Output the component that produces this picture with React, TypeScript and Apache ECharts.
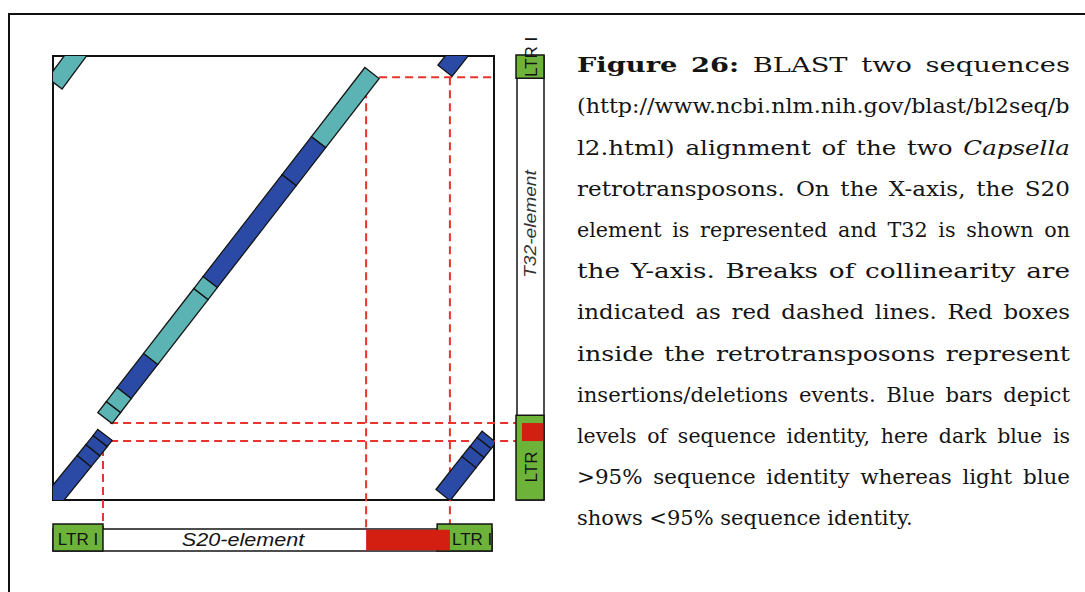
import React, { useEffect, useRef } from 'react';
import * as echarts from 'echarts';

// Axis extents of the dot plot (bp)
const S20_AXIS_MAX = 9000;
const T32_AXIS_MAX = 9000;

// Aligned blocks: [S20 from, T32 from, S20 to, T32 to, identity]
// identity: 'high' = >95 % sequence identity, 'low' = <95 %
const LTR5_VS_LTR5 = [
  [-270, -320, 635, 790, 'high'],
  [635, 790, 815, 1010, 'high'],
  [815, 1010, 965, 1195, 'high'],
  [965, 1195, 1060, 1320, 'high'],
];
const LTR5_VS_LTR3 = [[40, 8440, 760, 9410, 'low']];
const LTR3_VS_LTR3 = [[8000, 8700, 8610, 9470, 'high']];
const LTR3_VS_LTR5 = [
  [7960, 100, 8490, 770, 'high'],
  [8490, 770, 8655, 975, 'high'],
  [8655, 975, 8800, 1155, 'high'],
  [8800, 1155, 8900, 1280, 'high'],
];
const INTERNAL_REGION = [
  [1060, 1660, 1235, 1885, 'low'],
  [1235, 1885, 1455, 2170, 'low'],
  [1455, 2170, 1995, 2860, 'high'],
  [1995, 2860, 3020, 4175, 'low'],
  [3020, 4175, 3210, 4420, 'low'],
  [3210, 4420, 4820, 6485, 'high'],
  [4820, 6485, 5420, 7255, 'high'],
  [5420, 7255, 6510, 8655, 'low'],
];

// Element maps (bp)
const S20_LENGTH = 8960;
const S20_LTRS = [[0, 1020], [7840, 8960]];
const S20_INDELS = [[6390, 8100]];
const T32_LENGTH = 9000;
const T32_LTRS = [[0, 1720], [8550, 9020]];
const T32_INDELS = [[1195, 1560]];

// Breaks of collinearity
// vertical: [S20 position, T32 position where the line starts] -> runs down to the S20 map
const S20_BREAKS = [[1020, 1320], [6390, 8570], [8100, 8570]];
// horizontal: [T32 position, S20 position where the line starts] -> runs right to the T32 map
const T32_BREAKS = [[1560, 1165], [1195, 1165]];
// horizontal inside the plot only: [T32 position, S20 from, S20 to]
const T32_BREAKS_INNER = [[8570, 6390, 9000]];

const CAPTION_LINES = [
  '*Figure* *26:* BLAST two sequences',
  '(http://www.ncbi.nlm.nih.gov/blast/bl2seq/b',
  'l2.html) alignment of the two _Capsella_',
  'retrotransposons. On the X-axis, the S20',
  'element is represented and T32 is shown on',
  'the Y-axis. Breaks of collinearity are',
  'indicated as red dashed lines. Red boxes',
  'inside the retrotransposons represent',
  'insertions/deletions events. Blue bars depict',
  'levels of sequence identity, here dark blue is',
  '>95% sequence identity whereas light blue',
  'shows <95% sequence identity.',
];

const COLORS = {
  high: '#2B4AA6',
  low: '#5BB4B3',
  ltr: '#6DB33A',
  indel: '#D21F12',
  dash: '#E8342C',
  ink: '#141414',
};

const PLOT = { left: 53, top: 56, width: 441, height: 444 };
const S20_BAR = { left: 53, top: 529, width: 441, height: 22 };
const T32_BAR = { left: 517, top: 56, width: 27, height: 444 };
const BLOCK_THICKNESS = 18;
const LTR_RAISE = 5;

const CAPTION = { left: 577, right: 1070, top: 65, step: 41.2, size: 21, family: 'DejaVu Serif' };

function blockData(rows: any[]) {
  return rows.map((r) => ({
    value: [r[0], r[1], r[2], r[3]],
    itemStyle: { color: r[4] === 'high' ? COLORS.high : COLORS.low },
  }));
}

// Justified caption: spare room goes partly into widening the words, the rest into the gaps
function buildCaption() {
  const ctx = document.createElement('canvas').getContext('2d')!;
  const els: any[] = [];
  const W = CAPTION.right - CAPTION.left;
  CAPTION_LINES.forEach((line, i) => {
    const words = line.split(' ').map((w) => {
      if (w.startsWith('*')) return { t: w.replace(/\*/g, ''), bold: true, italic: false };
      if (w.startsWith('_')) return { t: w.replace(/_/g, ''), bold: false, italic: true };
      return { t: w, bold: false, italic: false };
    });
    const fontOf = (w: any) =>
      `${w.italic ? 'italic ' : ''}${w.bold ? 'bold ' : ''}${CAPTION.size}px "${CAPTION.family}"`;
    const widths = words.map((w) => {
      ctx.font = fontOf(w);
      return ctx.measureText(w.t).width;
    });
    ctx.font = `${CAPTION.size}px "${CAPTION.family}"`;
    const space = ctx.measureText(' ').width;
    const total = widths.reduce((a, b) => a + b, 0);
    const last = i === CAPTION_LINES.length - 1;
    const n = words.length;
    let gap = space;
    let scale = 1;
    if (n === 1) {
      scale = W / total;
    } else if (!last) {
      scale = (W - (n - 1) * space * 1.6) / total;
      scale = Math.max(0.9, Math.min(1.3, scale));
      gap = (W - total * scale) / (n - 1);
    }
    const y = CAPTION.top + i * CAPTION.step;
    let x = CAPTION.left;
    words.forEach((w, k) => {
      els.push({
        type: 'text',
        x,
        y,
        scaleX: scale,
        z: 10,
        style: {
          text: w.t,
          fontFamily: CAPTION.family,
          fontSize: CAPTION.size,
          fontWeight: w.bold ? 'bold' : 'normal',
          fontStyle: w.italic ? 'italic' : 'normal',
          fill: COLORS.ink,
          align: 'left',
          verticalAlign: 'middle',
        },
      });
      x += widths[k] * scale + gap;
    });
  });
  return els;
}

export default function App() {
  const ref = useRef<HTMLDivElement>(null);

  useEffect(() => {
    const chart = echarts.init(ref.current!, undefined, { renderer: 'svg' });

    const blocks = blockData([
      ...LTR5_VS_LTR5,
      ...LTR5_VS_LTR3,
      ...LTR3_VS_LTR3,
      ...LTR3_VS_LTR5,
      ...INTERNAL_REGION,
    ]);

    const rectSeries = (
      name: string,
      data: number[][],
      xAxisIndex: number,
      yAxisIndex: number,
      z: number,
      draw: (a: number[], b: number[]) => any
    ) => ({
      type: 'custom',
      name,
      xAxisIndex,
      yAxisIndex,
      z,
      silent: true,
      encode: { x: [0, 2], y: [1, 3] },
      data,
      renderItem: (_p: any, api: any) => {
        const a = api.coord([api.value(0), api.value(1)]);
        const b = api.coord([api.value(2), api.value(3)]);
        return draw(a, b);
      },
    });

    const dashStyle = { stroke: COLORS.dash, lineWidth: 2, lineDash: [8, 5] };

    const option: any = {
      animation: false,
      backgroundColor: '#ffffff',
      grid: [
        { ...PLOT, show: true, borderColor: '#111', borderWidth: 2, backgroundColor: 'transparent' },
        { ...S20_BAR, show: false },
        { ...T32_BAR, show: false },
      ],
      xAxis: [
        { gridIndex: 0, type: 'value', min: 0, max: S20_AXIS_MAX, show: false },
        { gridIndex: 1, type: 'value', min: 0, max: S20_AXIS_MAX, show: false },
        { gridIndex: 2, type: 'value', min: 0, max: 1, show: false },
      ],
      yAxis: [
        { gridIndex: 0, type: 'value', min: 0, max: T32_AXIS_MAX, show: false },
        { gridIndex: 1, type: 'value', min: 0, max: 1, show: false },
        { gridIndex: 2, type: 'value', min: 0, max: T32_AXIS_MAX, show: false },
      ],
      series: [
        // red dashed breaks of collinearity
        {
          type: 'custom',
          name: 'S20 breaks',
          xAxisIndex: 0,
          yAxisIndex: 0,
          z: 3,
          silent: true,
          data: S20_BREAKS,
          renderItem: (_p: any, api: any) => {
            const a = api.coord([api.value(0), api.value(1)]);
            return {
              type: 'line',
              shape: { x1: a[0], y1: a[1], x2: a[0], y2: S20_BAR.top + 4 },
              style: dashStyle,
            };
          },
        },
        {
          type: 'custom',
          name: 'T32 breaks',
          xAxisIndex: 0,
          yAxisIndex: 0,
          z: 3,
          silent: true,
          data: T32_BREAKS.map((r) => [r[1], r[0]]),
          renderItem: (_p: any, api: any) => {
            const a = api.coord([api.value(0), api.value(1)]);
            return {
              type: 'line',
              shape: { x1: a[0], y1: a[1], x2: T32_BAR.left + 4, y2: a[1] },
              style: dashStyle,
            };
          },
        },
        {
          type: 'custom',
          name: 'T32 inner breaks',
          xAxisIndex: 0,
          yAxisIndex: 0,
          z: 3,
          silent: true,
          encode: { x: [0, 2], y: [1, 3] },
          data: T32_BREAKS_INNER.map((r) => [r[1], r[0], r[2], r[0]]),
          renderItem: (_p: any, api: any) => {
            const a = api.coord([api.value(0), api.value(1)]);
            const b = api.coord([api.value(2), api.value(3)]);
            return {
              type: 'line',
              shape: { x1: a[0], y1: a[1], x2: b[0], y2: b[1] },
              style: dashStyle,
            };
          },
        },
        // alignment blocks
        {
          type: 'custom',
          name: 'alignment',
          xAxisIndex: 0,
          yAxisIndex: 0,
          z: 4,
          clip: true,
          silent: true,
          encode: { x: [0, 2], y: [1, 3] },
          data: blocks,
          renderItem: (_p: any, api: any) => {
            const a = api.coord([api.value(0), api.value(1)]);
            const b = api.coord([api.value(2), api.value(3)]);
            const dx = b[0] - a[0];
            const dy = b[1] - a[1];
            const len = Math.hypot(dx, dy) || 1;
            const nx = (-dy / len) * (BLOCK_THICKNESS / 2);
            const ny = (dx / len) * (BLOCK_THICKNESS / 2);
            return {
              type: 'polygon',
              shape: {
                points: [
                  [a[0] + nx, a[1] + ny],
                  [b[0] + nx, b[1] + ny],
                  [b[0] - nx, b[1] - ny],
                  [a[0] - nx, a[1] - ny],
                ],
              },
              style: { fill: api.visual('color'), stroke: COLORS.ink, lineWidth: 1.3 },
            };
          },
        },
        // S20 element map
        rectSeries('S20 body', [[0, 0, S20_LENGTH, 1]], 1, 1, 5, (a, b) => ({
          type: 'rect',
          shape: { x: a[0], y: b[1], width: b[0] - a[0], height: a[1] - b[1] },
          style: { fill: '#ffffff', stroke: COLORS.ink, lineWidth: 1.5 },
        })),
        rectSeries('S20 LTR', S20_LTRS.map((r) => [r[0], 0, r[1], 1]), 1, 1, 6, (a, b) => ({
          type: 'rect',
          shape: { x: a[0], y: b[1] - LTR_RAISE, width: b[0] - a[0], height: a[1] - b[1] + LTR_RAISE },
          style: { fill: COLORS.ltr, stroke: COLORS.ink, lineWidth: 1.5 },
        })),
        rectSeries('S20 indel', S20_INDELS.map((r) => [r[0], 0, r[1], 1]), 1, 1, 7, (a, b) => ({
          type: 'rect',
          shape: { x: a[0], y: b[1] + 0.8, width: b[0] - a[0], height: a[1] - b[1] - 1.6 },
          style: { fill: COLORS.indel },
        })),
        // T32 element map
        rectSeries('T32 body', [[0, 0, 1, T32_LENGTH]], 2, 2, 5, (a, b) => ({
          type: 'rect',
          shape: { x: a[0], y: b[1], width: b[0] - a[0], height: a[1] - b[1] },
          style: { fill: '#ffffff', stroke: COLORS.ink, lineWidth: 1.5 },
        })),
        rectSeries('T32 LTR', T32_LTRS.map((r) => [0, r[0], 1, r[1]]), 2, 2, 6, (a, b) => ({
          type: 'rect',
          shape: { x: a[0] - 1, y: b[1], width: b[0] - a[0] + 1, height: a[1] - b[1] },
          style: { fill: COLORS.ltr, stroke: COLORS.ink, lineWidth: 1.5 },
        })),
        rectSeries('T32 indel', T32_INDELS.map((r) => [0, r[0], 1, r[1]]), 2, 2, 7, (a, b) => ({
          type: 'rect',
          shape: { x: a[0] + 5, y: b[1], width: b[0] - a[0] - 5.8, height: a[1] - b[1] },
          style: { fill: COLORS.indel },
        })),
      ],
      graphic: [
        {
          type: 'rect',
          z: 1,
          shape: { x: 9, y: 14, width: 1100, height: 620 },
          style: { fill: 'none', stroke: '#111', lineWidth: 2 },
        },
        {
          type: 'text',
          x: 78,
          y: 539,
          z: 10,
          style: {
            text: 'LTR I',
            fontFamily: 'Liberation Sans',
            fontSize: 17,
            fill: COLORS.ink,
            align: 'center',
            verticalAlign: 'middle',
          },
        },
        {
          type: 'text',
          x: 452,
          y: 539,
          z: 10,
          style: {
            text: 'LTR I',
            fontFamily: 'Liberation Sans',
            fontSize: 17,
            fill: COLORS.ink,
            align: 'left',
            verticalAlign: 'middle',
          },
        },
        {
          type: 'text',
          x: 243,
          y: 540,
          z: 10,
          scaleX: 1.2,
          style: {
            text: 'S20-element',
            fontFamily: 'Liberation Sans',
            fontStyle: 'italic',
            fontSize: 18,
            fill: COLORS.ink,
            align: 'center',
            verticalAlign: 'middle',
          },
        },
        {
          type: 'text',
          x: 531,
          y: 467,
          z: 10,
          rotation: Math.PI / 2,
          style: {
            text: 'LTR',
            fontFamily: 'Liberation Sans',
            fontSize: 17,
            fill: COLORS.ink,
            align: 'center',
            verticalAlign: 'middle',
          },
        },
        {
          type: 'text',
          x: 531,
          y: 77,
          z: 10,
          rotation: Math.PI / 2,
          style: {
            text: 'LTR I',
            fontFamily: 'Liberation Sans',
            fontSize: 17,
            fill: COLORS.ink,
            align: 'left',
            verticalAlign: 'middle',
          },
        },
        {
          type: 'text',
          x: 531,
          y: 224,
          z: 10,
          rotation: Math.PI / 2,
          scaleX: 1.2,
          style: {
            text: 'T32-element',
            fontFamily: 'Liberation Sans',
            fontStyle: 'italic',
            fontSize: 16,
            fill: '#333',
            align: 'center',
            verticalAlign: 'middle',
          },
        },
        ...buildCaption(),
      ],
    };

    chart.setOption(option);
    return () => chart.dispose();
  }, []);

  return (
    <div
      ref={ref}
      style={{ position: 'absolute', left: 0, top: 0, width: 1085, height: 592, background: '#fff' }}
    />
  );
}
